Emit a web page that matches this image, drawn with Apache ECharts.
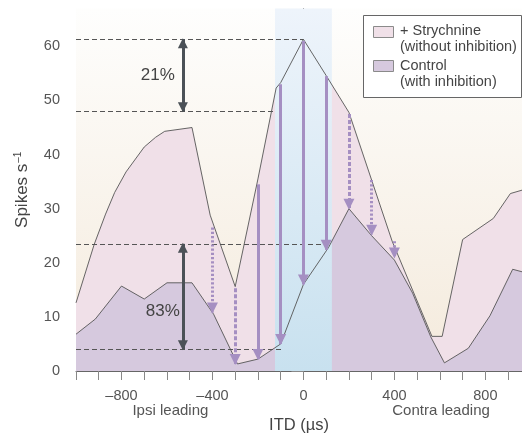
<!DOCTYPE html>
<html>
<head>
<meta charset="utf-8">
<script src="https://cdn.jsdelivr.net/npm/echarts@6/dist/echarts.min.js"></script>
<style>
  html, body { margin: 0; padding: 0; background: #fff; }
  #chart { width: 522px; height: 439px; }
</style>
</head>
<body>
<div id="chart"></div>
<script>
// firing rate (spikes/s) against ITD (µs)
var strychITD = [-1000, -920, -870, -830, -780, -700, -650, -610, -490, -410, -300, -200, -120, -100, 0, 100, 200, 390, 565, 610, 700, 835, 910, 1000];
var strychRate = [12.6, 23.4, 29, 33, 36.8, 41.4, 43.2, 44.3, 45, 28.8, 15.6, 35.5, 52.3, 53.3, 61.3, 54.6, 47.8, 24, 6.4, 6.4, 24.3, 28.2, 32.8, 33.9];
var controlITD = [-1000, -915, -800, -700, -600, -490, -395, -290, -200, -100, 0, 110, 200, 300, 400, 480, 560, 620, 725, 820, 920, 1000];
var controlRate = [6.8, 9.6, 15.7, 13.3, 16.3, 16.3, 10.5, 1.3, 2.2, 5.0, 16.0, 22.8, 30, 25, 20.5, 14.4, 6.3, 1.5, 4.2, 10.2, 18.8, 17.9];

// purple arrows, strychnine -> control
var arrowITD = [-400, -300, -200, -100, 0, 100, 200, 300, 400];
var arrowFrom = [26.5, 15.3, 34.5, 53, 61, 54.5, 47.5, 35.3, 24];
var arrowTo = [10.8, 1.3, 2.2, 5.0, 16, 22.4, 30, 25.2, 21];
var arrowKind = ['dotted', 'dashed', 'solid', 'solid', 'solid', 'solid', 'dashed', 'dotted', 'dotted'];

// dashed reference levels (start at -1000)
var refLevel = [61.3, 48, 23.5, 4];
var refEnd = [0, -130, 110, -95];

// the two dark brackets and their percentages
var bracketITD = -530;
var bracketTop = [61.3, 23.5];
var bracketBottom = [48, 4];
var bracketText = ['21%', '83%'];
var bracketTextY = [54.6, 11.0];
var bracketTextGap = [8, 3];

var bandRange = [-125, 125];

// the figure is cropped on the right, just short of +1000
var itdMin = -1000;
var itdMax = 961;
var xTicks = [-1000, -900, -800, -700, -600, -500, -400, -300, -200, -100, 0, 100, 200, 300, 400, 500, 600, 700, 800, 900];
var xLabels = [-800, -400, 0, 400, 800];
var yTicks = [0, 10, 20, 30, 40, 50, 60];
var sideITD = [-585, 605];
var sideText = ['Ipsi leading', 'Contra leading'];

var FONT = '"Liberation Sans", Arial, sans-serif';
var pink = '#f0e0e8';
var lilac = '#d6c9de';
var arrowPurple = '#a58fc2';
var dark = '#4b5157';

function zip(a, b) {
    return a.map(function (v, i) { return [v, b[i]]; });
}

var dashOf = { solid: 'solid', dashed: [4, 2], dotted: [2.2, 2] };

var arrowLines = arrowITD.map(function (x, i) {
    var ls = { color: arrowPurple, width: 3, type: dashOf[arrowKind[i]] };
    return [{ coord: [x, arrowFrom[i]], lineStyle: ls }, { coord: [x, arrowTo[i]], lineStyle: ls }];
});

var refLines = refLevel.map(function (y, i) {
    return [{ coord: [itdMin, y] }, { coord: [refEnd[i], y] }];
});

var bracketLines = bracketTop.map(function (y, i) {
    return [{ coord: [bracketITD, y] }, { coord: [bracketITD, bracketBottom[i]] }];
});

var bracketLabels = bracketText.map(function (t, i) {
    return { name: t, coord: [bracketITD, bracketTextY[i]], label: { distance: bracketTextGap[i] } };
});

var option = {
    animation: false,
    textStyle: { fontFamily: FONT },
    grid: {
        left: 76, right: 0, top: 8.5, bottom: 65,
        show: true, borderWidth: 0,
        backgroundColor: new echarts.graphic.LinearGradient(0, 0, 0, 1, [
            { offset: 0, color: '#fefefd' },
            { offset: 1, color: '#f4eadc' }
        ])
    },
    xAxis: [{
        type: 'value', min: itdMin, max: itdMax,
        axisLine: { lineStyle: { color: '#666', width: 1 } },
        axisTick: { customValues: xTicks, length: 9, lineStyle: { color: '#888' } },
        axisLabel: {
            customValues: xLabels, margin: 17, fontSize: 14.5, color: '#555',
            formatter: function (v) { return v < 0 ? '\u2013' + (-v) : String(v); }
        },
        splitLine: { show: false },
        name: 'ITD (\u00b5s)', nameLocation: 'middle', nameGap: 46,
        nameTextStyle: { fontSize: 16.5, color: '#444' }
    }, {
        type: 'value', min: itdMin, max: itdMax, position: 'bottom',
        axisLine: { show: false }, axisTick: { show: false }, splitLine: { show: false },
        axisLabel: {
            customValues: sideITD, margin: 32, fontSize: 15, color: '#555',
            formatter: function (v) { return sideText[sideITD.indexOf(v)]; }
        }
    }],
    yAxis: {
        type: 'value', min: 0, max: 67,
        axisLine: { show: true, lineStyle: { color: '#666', width: 1 } },
        axisTick: { show: true, customValues: yTicks, length: 12, lineStyle: { color: '#888' } },
        axisLabel: { customValues: yTicks, margin: 16, fontSize: 14.5, color: '#555' },
        splitLine: { show: false },
        name: 'Spikes s{sup|\u20131}', nameLocation: 'middle', nameGap: 44,
        nameTextStyle: {
            fontSize: 17, color: '#444',
            rich: { sup: { fontSize: 10, color: '#444', padding: [0, 0, 9, 1] } }
        }
    },
    series: [{
        name: '+ Strychnine', type: 'line', z: 1, silent: true,
        data: zip(strychITD, strychRate), symbol: 'none',
        lineStyle: { width: 0 }, areaStyle: { color: pink, opacity: 1 },
        markPoint: {
            z: 7, symbol: 'circle', symbolSize: 0, silent: true,
            label: { show: true, position: 'left', formatter: '{b}', fontSize: 17, color: '#444' },
            data: bracketLabels
        }
    }, {
        name: 'Control', type: 'line', z: 2, silent: true,
        data: zip(controlITD, controlRate), symbol: 'none',
        lineStyle: { width: 0 }, areaStyle: { color: lilac, opacity: 1 },
        markArea: {
            z: 3, silent: true,
            itemStyle: {
                color: new echarts.graphic.LinearGradient(0, 0, 0, 1, [
                    { offset: 0, color: '#eef4fb' },
                    { offset: 1, color: '#c8e1ef' }
                ])
            },
            data: [[{ xAxis: bandRange[0] }, { xAxis: bandRange[1] }]]
        },
        markLine: {
            z: 6, silent: true, symbol: ['triangle', 'triangle'], symbolSize: 10,
            symbolOffset: [[0, 4], [0, 4]],
            label: { show: false },
            lineStyle: { color: dark, width: 3, type: 'solid' },
            data: bracketLines
        }
    }, {
        type: 'line', z: 5, silent: true,
        data: zip(strychITD, strychRate), symbol: 'none',
        lineStyle: { color: '#555', width: 0.9 },
        markLine: {
            z: 4, silent: true, symbol: 'none',
            label: { show: false },
            lineStyle: { color: '#555', width: 1, type: [5, 3] },
            data: refLines
        }
    }, {
        type: 'line', z: 5, silent: true,
        data: zip(controlITD, controlRate), symbol: 'none',
        lineStyle: { color: '#555', width: 0.9 },
        markLine: {
            z: 6, silent: true, symbol: ['none', 'triangle'], symbolSize: 11,
            symbolOffset: [[0, 0], [0, 4.5]],
            label: { show: false },
            data: arrowLines
        }
    }],
    graphic: [{
        type: 'group', left: 363, top: 15, silent: true,
        children: [
            { type: 'rect', shape: { x: 0.5, y: 0.5, width: 158, height: 82 }, style: { fill: '#fff', stroke: '#666', lineWidth: 1 } },
            { type: 'rect', shape: { x: 10.5, y: 11.5, width: 20, height: 11 }, style: { fill: pink, stroke: '#8a8a8a', lineWidth: 1 } },
            { type: 'rect', shape: { x: 10.5, y: 45.5, width: 20, height: 11 }, style: { fill: lilac, stroke: '#8a8a8a', lineWidth: 1 } },
            { type: 'text', x: 37, y: 8, style: { text: '+ Strychnine\n(without inhibition)', font: '14.5px ' + FONT, fill: '#444', lineHeight: 16 } },
            { type: 'text', x: 37, y: 42.5, style: { text: 'Control\n(with inhibition)', font: '14.5px ' + FONT, fill: '#444', lineHeight: 16 } }
        ]
    }]
};

echarts.init(document.getElementById('chart')).setOption(option);
</script>
</body>
</html>
